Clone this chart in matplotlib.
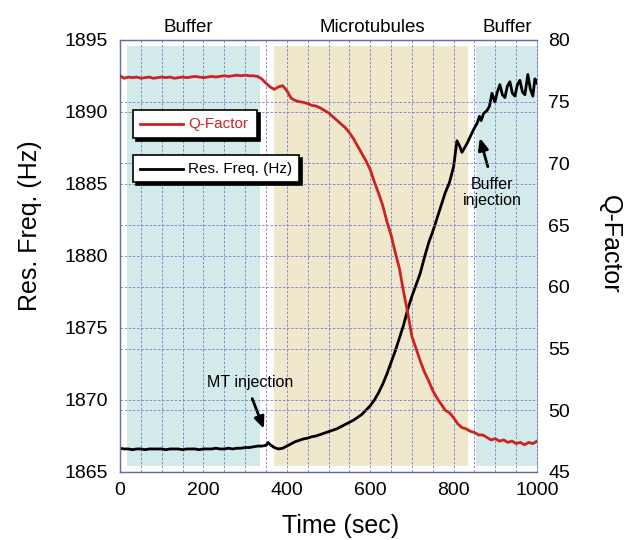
import matplotlib
matplotlib.use("Agg")
import matplotlib.pyplot as plt
from matplotlib.patches import Rectangle
from matplotlib.lines import Line2D

plt.rcParams['font.family'] = ['Liberation Sans', 'DejaVu Sans']

# ---------------- data ----------------
phase_names = ['Buffer', 'Microtubules', 'Buffer']
phase_start = [17, 369, 854]
phase_end = [336, 834, 1000]
phase_label_x = [163, 604, 928]
phase_colors = ['#d3eaea', '#f0e8cd', '#d3eaea']

q_time = [0, 10, 20, 30, 40, 50, 60, 70, 80, 90, 100,
          110, 120, 130, 140, 150, 160, 170, 180, 190, 200,
          210, 220, 230, 240, 250, 260, 270, 280, 290, 300,
          310, 320, 330, 340, 350, 360, 370, 380, 390, 400,
          410, 420, 430, 440, 450, 460, 470, 480, 490, 500,
          510, 520, 530, 540, 550, 560, 570, 580, 590, 600,
          610, 620, 630, 640, 650, 660, 670, 680, 690, 700,
          710, 720, 730, 740, 750, 760, 770, 780, 790, 800,
          810, 820, 830, 840, 850, 860, 870, 880, 890, 900,
          910, 920, 930, 940, 950, 960, 970, 980, 990, 1000]
q_factor = [77.1, 76.9, 77.0, 76.95, 77.0, 76.9, 76.95, 77.0, 76.9, 76.95, 77.0,
            76.95, 77.0, 76.9, 76.95, 77.0, 76.95, 77.0, 77.05, 77.0, 76.95,
            77.0, 77.05, 77.0, 77.05, 77.1, 77.05, 77.1, 77.15, 77.1, 77.15,
            77.1, 77.1, 77.05, 76.85, 76.5, 76.2, 76.0, 76.2, 76.3, 75.9,
            75.3, 75.1, 75.0, 74.95, 74.85, 74.7, 74.65, 74.5, 74.3, 74.1,
            73.8, 73.5, 73.2, 72.9, 72.5, 72.0, 71.4, 70.8, 70.2, 69.5,
            68.5, 67.6, 66.6, 65.3, 64.2, 62.8, 61.5, 59.6, 57.9, 56.0,
            55.0, 54.0, 53.1, 52.4, 51.6, 51.0, 50.5, 50.0, 49.8, 49.4,
            48.9, 48.6, 48.5, 48.3, 48.2, 48.0, 48.0, 47.8, 47.6, 47.7,
            47.5, 47.6, 47.4, 47.5, 47.3, 47.4, 47.2, 47.4, 47.3, 47.5]

f_time = [0, 10, 20, 30, 40, 50, 60, 70, 80, 90, 100,
          110, 120, 130, 140, 150, 160, 170, 180, 190, 200,
          210, 220, 230, 240, 250, 260, 270, 280, 290, 300,
          310, 320, 330, 340, 350, 355, 360, 370, 380, 390, 400,
          410, 420, 430, 440, 450, 460, 470, 480, 490, 500,
          510, 520, 530, 540, 550, 560, 570, 580, 590, 600,
          610, 620, 630, 640, 650, 660, 670, 680, 690, 700,
          710, 720, 730, 740, 750, 760, 770, 780, 790, 800,
          808, 815, 820, 832, 840, 850, 856, 862, 866, 872, 880,
          886, 892, 899, 905, 911, 917, 923, 929, 935, 941, 947,
          953, 959, 965, 971, 978, 984, 990, 995, 1000]
res_freq = [1866.65, 1866.6, 1866.6, 1866.55, 1866.6, 1866.6, 1866.55, 1866.6, 1866.6, 1866.6, 1866.6,
            1866.55, 1866.6, 1866.6, 1866.6, 1866.55, 1866.6, 1866.6, 1866.6, 1866.55, 1866.6,
            1866.6, 1866.6, 1866.65, 1866.6, 1866.6, 1866.65, 1866.6, 1866.65, 1866.65, 1866.7,
            1866.7, 1866.75, 1866.8, 1866.8, 1866.85, 1867.05, 1866.9, 1866.7, 1866.6, 1866.65, 1866.8,
            1866.95, 1867.1, 1867.2, 1867.3, 1867.35, 1867.45, 1867.5, 1867.6, 1867.7, 1867.8,
            1867.9, 1868.0, 1868.15, 1868.3, 1868.45, 1868.6, 1868.8, 1869.0, 1869.3, 1869.6,
            1870.0, 1870.5, 1871.1, 1871.8, 1872.6, 1873.4, 1874.3, 1875.2, 1876.3, 1877.2,
            1878.0, 1878.8, 1879.9, 1880.9, 1881.7, 1882.6, 1883.5, 1884.4, 1885.1, 1886.2,
            1888.0, 1887.6, 1887.2, 1887.8, 1888.3, 1888.9, 1889.2, 1889.7, 1889.4, 1889.9, 1890.1,
            1890.4, 1891.3, 1890.7, 1891.4, 1891.9, 1891.2, 1891.0, 1891.8, 1892.1, 1891.3, 1891.1,
            1891.9, 1892.2, 1891.4, 1891.2, 1892.6, 1891.6, 1891.1, 1892.3, 1892.0]

x_ticks = [0, 200, 400, 600, 800, 1000]
left_ticks = [1865, 1870, 1875, 1880, 1885, 1890, 1895]
right_ticks = [45, 50, 55, 60, 65, 70, 75, 80]

# ---------------- figure ----------------
fig = plt.figure(figsize=(6.32, 5.40), dpi=100)
ax = fig.add_axes([120 / 632, 1 - 472 / 540, 417 / 632, 432 / 540])
ax2 = ax.twinx()

grid_col = '#7a7ac8'
spine_col = '#6a6aa8'

ax.set_xlim(0, 1000)
ax.set_ylim(1865, 1895)
ax2.set_ylim(45, 80)

for s, e, c in zip(phase_start, phase_end, phase_colors):
    ax.axvspan(s, e, ymin=0.014, ymax=0.986, color=c, lw=0, zorder=0.2)
for name, xl in zip(phase_names, phase_label_x):
    ax.text(xl, 1.03, name, transform=ax.get_xaxis_transform(),
            ha='center', va='center', fontsize=13.5)

ax.set_axisbelow(True)
ax.set_xticks(x_ticks)
ax.set_xticks(range(0, 1001, 50), minor=True)
ax.set_yticks(left_ticks)
ax2.set_yticks(right_ticks)
ax.grid(True, which='both', axis='x', color=grid_col, ls=(0, (3, 2)), lw=0.6)
ax.grid(True, which='major', axis='y', color=grid_col, ls=(0, (3, 2)), lw=0.6)
ax2.grid(True, which='major', axis='y', color=grid_col, ls=(0, (3, 2)), lw=0.6)
ax2.set_axisbelow(True)

ax.plot(f_time, res_freq, color='black', lw=2.0, zorder=3)
ax2.plot(q_time, q_factor, color='#cc2222', lw=2.0, zorder=3)

ax.tick_params(axis='both', which='both', length=0, labelsize=14)
ax.tick_params(axis='y', pad=9)
ax.tick_params(axis='x', pad=7)
ax2.tick_params(axis='y', length=0, labelsize=14, pad=8)

for a in (ax, ax2):
    for sp in ['left', 'bottom', 'top']:
        a.spines[sp].set_color(spine_col)
        a.spines[sp].set_linewidth(0.9)
    a.spines['right'].set_color(grid_col)
    a.spines['right'].set_linestyle((0, (3, 2)))
    a.spines['right'].set_linewidth(0.6)

ax.set_xlabel('Time (sec)', fontsize=18, va='center', ha='center')
ax.xaxis.set_label_coords(0.528, -0.125)
ax.set_ylabel('Res. Freq. (Hz)', fontsize=18, va='center', ha='center')
ax.yaxis.set_label_coords(-0.215, 0.57)
ax2.set_ylabel('Q-Factor', fontsize=18, rotation=270, va='center', ha='center')
ax2.yaxis.set_label_coords(1.175, 0.528)

# legend boxes (manual, with solid drop shadow)
def legend_box(x0, y0, w, h, color, label):
    dx, dy = 3 / 417, 3 / 432
    ax2.add_patch(Rectangle((x0 + dx, y0 - dy), w, h, transform=ax2.transAxes,
                            facecolor='black', edgecolor='black', lw=1.2, zorder=10))
    ax2.add_patch(Rectangle((x0, y0), w, h, transform=ax2.transAxes,
                            facecolor='white', edgecolor='black', lw=1.2, zorder=11))
    yc = y0 + h / 2
    ax2.add_line(Line2D([0.048, 0.151], [yc, yc], transform=ax2.transAxes,
                        color=color, lw=2.0, zorder=12))
    ax2.text(0.163, yc, label, transform=ax2.transAxes, color=color,
             fontsize=11, ha='left', va='center', zorder=12)

legend_box(0.031, 0.773, 0.298, 0.065, '#cc2222', 'Q-Factor')
legend_box(0.031, 0.671, 0.398, 0.063, 'black', 'Res. Freq. (Hz)')

# annotations
arrow = dict(arrowstyle='-|>,head_length=0.7,head_width=0.3', color='black', lw=2.0,
             shrinkA=0, shrinkB=0)
ax.text(312, 1871.2, 'MT injection', ha='center', va='center', fontsize=11.5, zorder=12)
ax.annotate('', xy=(345, 1868.0), xytext=(317, 1870.1), arrowprops=arrow, zorder=12)
ax.text(892, 1884.4, 'Buffer\ninjection', ha='center', va='center', fontsize=11.5,
        linespacing=1.1, zorder=12)
ax.annotate('', xy=(863, 1888.2), xytext=(882, 1886.2), arrowprops=arrow, zorder=12)

fig.savefig('out.png', dpi=100)
